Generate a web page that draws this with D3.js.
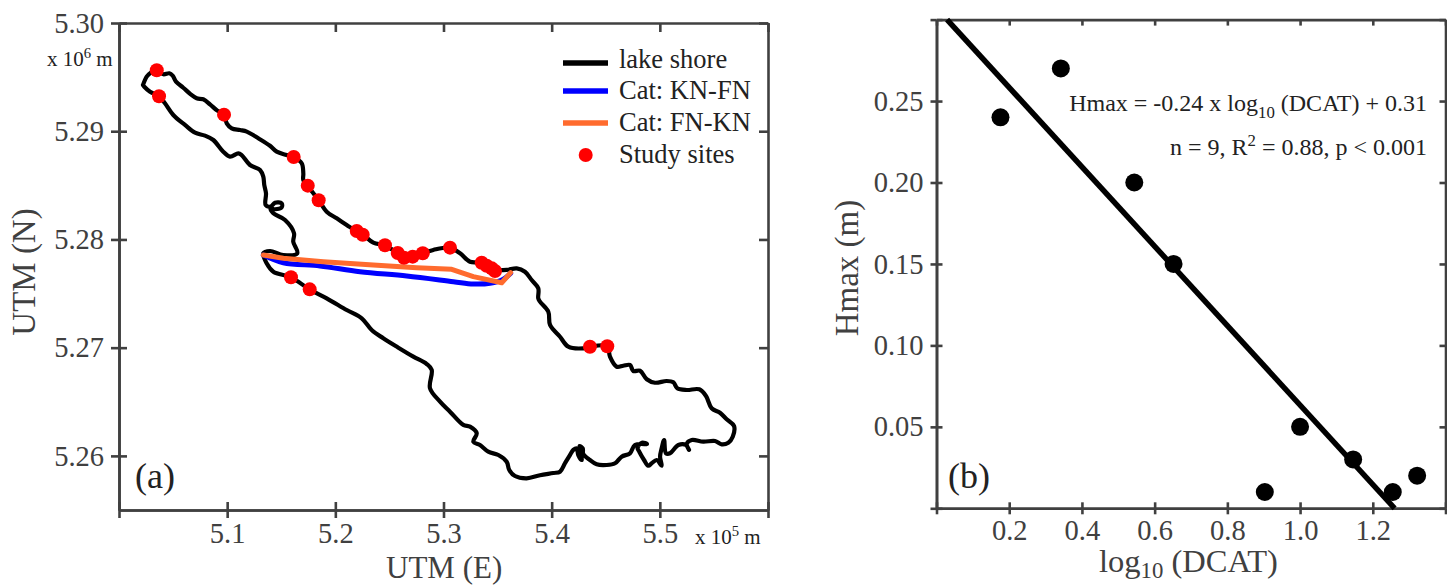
<!DOCTYPE html>
<html>
<head>
<meta charset="utf-8">
<script src="https://cdn.jsdelivr.net/npm/d3@7"></script>
<style>
  html, body { margin: 0; padding: 0; background: #fff; }
  svg { display: block; }
  text { font-family: "Liberation Serif", serif; fill: #404040; }
</style>
</head>
<body>
<script>
// panel (a): shoreline, x 10^5 m (E) and x 10^6 m (N)
const shoreE = [5.0222,5.0256,5.0293,5.0349,5.0410,5.0465,5.0496,5.0527,5.0594,5.0663,5.0718,5.0779,5.0841,5.0909,5.0971,5.0996,5.1042,5.1119,5.1181,5.1288,5.1396,5.1458,5.1550,5.1613,5.1689,5.1704,5.1704,5.1743,5.1844,5.1920,5.2013,5.2105,5.2198,5.2253,5.2351,5.2459,5.2575,5.2630,5.2715,5.2806,5.2906,5.3060,5.3153,5.3245,5.3353,5.3430,5.3476,5.3584,5.3677,5.3753,5.3815,5.3876,5.3876,5.3892,5.3969,5.3985,5.4077,5.4154,5.4292,5.4354,5.4514,5.4539,5.4601,5.4662,5.4724,5.4755,5.4817,5.4879,5.4955,5.5063,5.5125,5.5161,5.5248,5.5365,5.5427,5.5479,5.5556,5.5618,5.5686,5.5674,5.5633,5.5572,5.5510,5.5402,5.5295,5.5248,5.5270,5.5242,5.5171,5.5094,5.5057,5.5039,5.5017,5.5002,5.5017,5.4971,5.4925,5.4893,5.4854,5.4810,5.4794,5.4835,5.4881,5.4770,5.4724,5.4647,5.4586,5.4509,5.4416,5.4354,5.4292,5.4287,5.4257,5.4278,5.4246,5.4231,5.4200,5.4169,5.4123,5.4077,5.4015,5.3892,5.3769,5.3661,5.3608,5.3584,5.3507,5.3414,5.3337,5.3276,5.3307,5.3245,5.3183,5.3060,5.2968,5.2875,5.2891,5.2845,5.2721,5.2579,5.2443,5.2336,5.2244,5.2105,5.1920,5.1761,5.1590,5.1427,5.1365,5.1334,5.1396,5.1519,5.1648,5.1611,5.1618,5.1535,5.1427,5.1402,5.1442,5.1504,5.1504,5.1442,5.1402,5.1356,5.1359,5.1343,5.1334,5.1304,5.1211,5.1134,5.1103,5.1026,5.0964,5.0872,5.0795,5.0703,5.0610,5.0502,5.0425,5.0370,5.0287,5.0234,5.0222];
const shoreN = [5.29427,5.29504,5.29541,5.29561,5.29526,5.29535,5.29513,5.29458,5.29402,5.29341,5.29304,5.29295,5.29249,5.29190,5.29153,5.29073,5.29027,5.29011,5.28996,5.28935,5.28866,5.28811,5.28780,5.28760,5.28704,5.28611,5.28549,5.28497,5.28365,5.28256,5.28195,5.28134,5.28073,5.28046,5.27970,5.27944,5.27873,5.27829,5.27841,5.27872,5.27903,5.27924,5.27872,5.27794,5.27785,5.27733,5.27718,5.27718,5.27733,5.27702,5.27625,5.27549,5.27456,5.27425,5.27332,5.27210,5.27101,5.27009,5.26994,5.27009,5.27013,5.26917,5.26824,5.26833,5.26840,5.26784,5.26787,5.26708,5.26676,5.26692,5.26680,5.26625,5.26609,5.26615,5.26553,5.26440,5.26399,5.26338,5.26276,5.26177,5.26122,5.26107,5.26138,5.26131,5.26147,5.26110,5.26055,5.26101,5.26101,5.26024,5.26024,5.26147,5.26070,5.25993,5.25909,5.25962,5.25932,5.25909,5.25962,5.26039,5.26073,5.26122,5.26110,5.26101,5.26024,5.25993,5.25932,5.25916,5.25922,5.25962,5.26018,5.26070,5.26091,5.25962,5.26008,5.26070,5.26055,5.26008,5.25932,5.25854,5.25842,5.25821,5.25793,5.25814,5.25870,5.25946,5.26008,5.26039,5.26101,5.26131,5.26209,5.26270,5.26286,5.26408,5.26501,5.26625,5.26794,5.26849,5.26917,5.27002,5.27087,5.27163,5.27271,5.27348,5.27456,5.27539,5.27650,5.27702,5.27780,5.27872,5.27893,5.27856,5.27872,5.27979,5.28057,5.28180,5.28242,5.28288,5.28279,5.28297,5.28334,5.28340,5.28303,5.28318,5.28426,5.28503,5.28580,5.28642,5.28688,5.28780,5.28796,5.28765,5.28811,5.28919,5.28959,5.28986,5.29058,5.29150,5.29258,5.29323,5.29365,5.29411,5.29427];

const catBlueE = [5.1334,5.1519,5.1858,5.2228,5.2660,5.3091,5.3276,5.3430,5.3553,5.3621];
const catBlueN = [5.27856,5.27785,5.27755,5.27702,5.27662,5.27610,5.27588,5.27595,5.27632,5.27687];
const catOrangeE = [5.1334,5.1519,5.1889,5.2351,5.2752,5.3076,5.3276,5.3538,5.3621];
const catOrangeN = [5.27856,5.27826,5.27794,5.27764,5.27739,5.27724,5.27656,5.27600,5.27693];

const siteE = [5.0349,5.0370,5.0971,5.1615,5.1745,5.1846,5.2198,5.2253,5.2459,5.2577,5.2635,5.2715,5.2808,5.3060,5.3353,5.3399,5.3446,5.3476,5.1590,5.1763,5.4354,5.4514];
const siteN = [5.29563,5.29323,5.29153,5.28762,5.28497,5.28362,5.28078,5.28044,5.27946,5.27875,5.27831,5.27841,5.27872,5.27924,5.27785,5.27757,5.27733,5.27708,5.27650,5.27539,5.27009,5.27013];

const aXTicks = [5.0,5.1,5.2,5.3,5.4,5.5,5.6];
const aYTicks = [5.26,5.27,5.28,5.29,5.30];
const legendLabels = ["lake shore","Cat: KN-FN","Cat: FN-KN","Study sites"];

// panel (b): scatter and fit
const logDcat = [0.176,0.342,0.544,0.652,0.903,1.0,1.146,1.255,1.322];
const hmax = [0.24,0.27,0.20,0.15,0.01,0.05,0.03,0.01,0.02];
const fitX = [0.029,1.26];
const fitY = [0.30,0];
const bXTicks = [0,0.2,0.4,0.6,0.8,1.0,1.2,1.4];
const bYTicks = [0,0.05,0.10,0.15,0.20,0.25,0.30];

const AXIS = "#404040";

const svg = d3.select("body").append("svg")
    .attr("width", 1447)
    .attr("height", 586);

// scales
const xA = d3.scaleLinear().domain([5.0,5.6]).range([119,768]);
const yA = d3.scaleLinear().domain([5.255,5.30]).range([510,23]);
const xB = d3.scaleLinear().domain([0,1.4]).range([936.5,1445.5]);
const yB = d3.scaleLinear().domain([0,0.30]).range([508.3,19.6]);

function frame(x, y, xTicks, yTicks, xFmt, yFmt, tick, inner) {
  const b = y.range()[0], t = y.range()[1], l = x.range()[0], r = x.range()[1];
  const pieces = [
    [d3.axisBottom(x).tickValues(xTicks).tickFormat(xFmt).tickSize(tick).tickSizeOuter(0).tickPadding(5), 0, b],
    [d3.axisBottom(x).tickValues(xTicks).tickFormat("").tickSize(-tick).tickSizeOuter(0), 0, b],
    [d3.axisLeft(y).tickValues(yTicks).tickFormat(yFmt).tickSize(tick).tickSizeOuter(0).tickPadding(7), l, 0],
    [d3.axisLeft(y).tickValues(yTicks).tickFormat("").tickSize(-tick).tickSizeOuter(0), l, 0],
    [d3.axisTop(x).tickValues(xTicks).tickFormat("").tickSize(-inner).tickSizeOuter(0), 0, t],
    [d3.axisRight(y).tickValues(yTicks).tickFormat("").tickSize(-inner).tickSizeOuter(0), r, 0]
  ];
  pieces.forEach(p => {
    const g = svg.append("g").attr("transform", `translate(${p[1]},${p[2]})`).call(p[0]);
    g.selectAll("path,line").attr("stroke", AXIS).attr("stroke-width", 2.6);
    g.selectAll("text").attr("fill", AXIS).attr("font-size", 28.5).attr("font-family", '"Liberation Serif", serif');
  });
}

// only the inner ticks show on the corner values, labels are dropped there
frame(xA, yA, aXTicks, aYTicks,
  d => (d === 5.0 || d === 5.6) ? "" : d3.format(".1f")(d),
  d3.format(".2f"), 8, 9);
frame(xB, yB, bXTicks, bYTicks,
  d => (d === 0 || d === 1.4) ? "" : d3.format(".1f")(d),
  d => (d === 0 || d === 0.30) ? "" : d3.format(".2f")(d), 6, 6);

// panel (a) marks
const drawA = (es, ns, col, w, curve) => svg.append("path")
    .datum(d3.zip(es, ns))
    .attr("d", d3.line().x(d => xA(d[0])).y(d => yA(d[1])).curve(curve))
    .attr("fill", "none")
    .attr("stroke", col)
    .attr("stroke-width", w)
    .attr("stroke-linejoin", "round")
    .attr("stroke-linecap", "round");

drawA(shoreE, shoreN, "#000", 4.2, d3.curveCatmullRom.alpha(0.5));
drawA(catBlueE, catBlueN, "#0000ff", 5, d3.curveCatmullRom.alpha(0.5));
drawA(catOrangeE, catOrangeN, "#ff6b2e", 5, d3.curveLinear);

svg.selectAll(".site")
    .data(d3.zip(siteE, siteN))
  .enter().append("circle")
    .attr("class", "site")
    .attr("cx", d => xA(d[0]))
    .attr("cy", d => yA(d[1]))
    .attr("r", 7)
    .attr("fill", "#ff0000");

// legend
const legendColors = ["#000","#0000ff","#ff6b2e"];
const legendY = [63,91,123];
legendColors.forEach((c, i) => {
  svg.append("line")
      .attr("x1", 563).attr("x2", 608)
      .attr("y1", legendY[i]).attr("y2", legendY[i])
      .attr("stroke", c).attr("stroke-width", 5.5);
});
svg.append("circle").attr("cx", 585.7).attr("cy", 155).attr("r", 7).attr("fill", "#ff0000");
const legendBase = [68,99,131,163];
legendLabels.forEach((t, i) => {
  svg.append("text").attr("x", 619).attr("y", legendBase[i])
      .attr("font-size", 26.5).style("fill", "#222").text(t);
});

// panel (b) marks
svg.append("path")
    .datum(d3.zip(fitX, fitY))
    .attr("d", d3.line().x(d => xB(d[0])).y(d => yB(d[1])))
    .attr("stroke", "#000")
    .attr("stroke-width", 5.5)
    .attr("fill", "none");

svg.selectAll(".pt")
    .data(d3.zip(logDcat, hmax))
  .enter().append("circle")
    .attr("class", "pt")
    .attr("cx", d => xB(d[0]))
    .attr("cy", d => yB(d[1]))
    .attr("r", 9)
    .attr("fill", "#000");

// text
function label(x, y, size, parts, opts) {
  opts = opts || {};
  const t = svg.append("text")
      .attr("x", x).attr("y", y)
      .attr("font-size", size)
      .attr("text-anchor", opts.anchor || "start")
      .style("fill", opts.fill || "#404040");
  if (opts.rotate) t.attr("transform", `rotate(-90 ${x} ${y})`);
  // parts: plain strings, or [string, shift] for super/subscript
  let back = 0;
  parts.forEach(p => {
    const s = t.append("tspan");
    if (typeof p === "string") {
      s.attr("dy", back).text(p);
      back = 0;
    } else {
      s.attr("dy", p[1]).attr("font-size", size * 0.7).text(p[0]);
      back = -p[1];
    }
  });
  return t;
}

label(386, 578, 31, ["UTM (E)"]);
label(35, 272, 33, ["UTM (N)"], {anchor: "middle", rotate: true});
label(47, 66, 21, ["x 10", ["6", -8], " m"], {fill: "#222"});
label(695, 544, 21, ["x 10", ["5", -8], " m"], {fill: "#222"});
label(135, 488, 36, ["(a)"], {fill: "#222"});

label(1099, 572, 32.5, ["log", ["10", 6], " (DCAT)"]);
label(858, 268, 33, ["Hmax (m)"], {anchor: "middle", rotate: true});
label(948, 488, 36, ["(b)"], {fill: "#222"});
label(1427, 111, 24, ["Hmax = -0.24 x log", ["10", 7], " (DCAT) + 0.31"], {anchor: "end", fill: "#222"});
label(1427, 155, 24, ["n = 9, R", ["2", -9], " = 0.88, p < 0.001"], {anchor: "end", fill: "#222"});
</script>
</body>
</html>
